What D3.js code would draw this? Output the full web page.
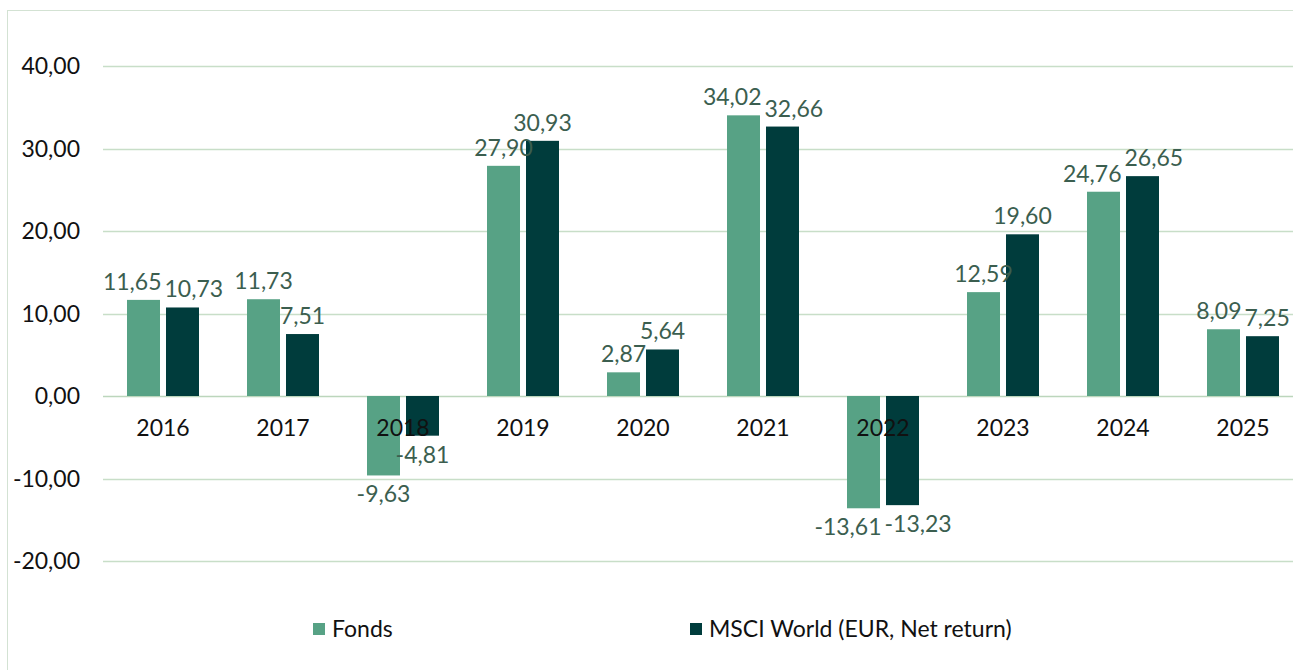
<!DOCTYPE html>
<html>
<head>
<meta charset="utf-8">
<script src="https://cdn.jsdelivr.net/npm/d3@7"></script>
<style>
	body { margin: 0; background: #fff; }
	svg text { font-family: Lato, "Open Sans", sans-serif; }
</style>
</head>
<body>
<div id="chart"></div>
<script>
const years = ["2016", "2017", "2018", "2019", "2020", "2021", "2022", "2023", "2024", "2025"];
const fonds = [11.65, 11.73, -9.63, 27.90, 2.87, 34.02, -13.61, 12.59, 24.76, 8.09];
const msci = [10.73, 7.51, -4.81, 30.93, 5.64, 32.66, -13.23, 19.60, 26.65, 7.25];
const seriesNames = ["Fonds", "MSCI World (EUR, Net return)"];
const yTicks = [-20, -10, 0, 10, 20, 30, 40];

drawchart()

function drawchart() {
	const width = 1293;
	const height = 670;
	const colors = ["#57a285", "#003c3c"];
	const fmt = v => d3.format(".2f")(v).replace(".", ",").replace("−", "-");
	const fs = 23;

	const svg = d3.select("#chart")
		.append("svg")
		.attr("width", width)
		.attr("height", height);

	// chart frame
	svg.append("rect")
		.attr("x", 7.5)
		.attr("y", 10.5)
		.attr("width", width)
		.attr("height", height)
		.attr("fill", "none")
		.attr("stroke", "#d3e2d3")
		.attr("stroke-width", 1);

	const x = d3.scaleBand()
		.domain(years)
		.range([103, 1303])
		.padding(0);

	const y = d3.scaleLinear()
		.domain([-20, 40])
		.range([561, 66]);

	// gridlines
	svg.append("g")
		.selectAll("line")
		.data(yTicks)
		.enter()
		.append("line")
		.attr("x1", 103)
		.attr("x2", width)
		.attr("y1", d => Math.round(y(d)) + 0.5)
		.attr("y2", d => Math.round(y(d)) + 0.5)
		.attr("stroke", d => d === 0 ? "#bcd6bc" : "#c8dec8")
		.attr("stroke-width", 1.3);

	// y labels
	svg.append("g")
		.selectAll("text")
		.data(yTicks)
		.enter()
		.append("text")
		.text(d => fmt(d))
		.attr("x", 80)
		.attr("y", d => y(d) + 8)
		.attr("text-anchor", "end")
		.attr("font-size", fs)
		.attr("fill", "#111");

	const barW = 33;
	const gap = 6;
	const offsets = [-(barW + gap / 2), gap / 2];
	const series = [fonds, msci];

	const groups = svg.append("g")
		.selectAll("g")
		.data(series)
		.enter()
		.append("g")
		.attr("fill", (d, i) => colors[i]);

	groups.each(function(vals, s) {
		d3.select(this).selectAll("rect")
			.data(vals)
			.enter()
			.append("rect")
			.attr("x", (d, i) => x(years[i]) + x.bandwidth() / 2 + offsets[s])
			.attr("width", barW)
			.attr("y", d => y(Math.max(0, d)))
			.attr("height", d => Math.abs(y(d) - y(0)));
	});

	// category labels (drawn over bars)
	svg.append("g")
		.selectAll("text")
		.data(years)
		.enter()
		.append("text")
		.text(d => d)
		.attr("x", d => x(d) + x.bandwidth() / 2)
		.attr("y", 436)
		.attr("text-anchor", "middle")
		.attr("font-size", fs)
		.attr("fill", "#111");

	// value labels
	const labelY = d => d >= 0 ? y(d) - 10 : y(d) + 27;
	const labels = series.map(function(vals, s) {
		return svg.append("g")
			.selectAll("text")
			.data(vals)
			.enter()
			.append("text")
			.text(d => fmt(d))
			.attr("x", (d, i) => x(years[i]) + x.bandwidth() / 2 + offsets[s] + barW / 2)
			.attr("y", labelY)
			.attr("text-anchor", "middle")
			.attr("font-size", fs)
			.attr("fill", "#3b5e4f");
	});

	// push overlapping label pairs apart
	const a = labels[0].nodes();
	const b = labels[1].nodes();
	years.forEach(function(yr, i) {
		const ya = labelY(fonds[i]);
		const yb = labelY(msci[i]);
		if (Math.abs(ya - yb) > 20) return;
		const wa = a[i].getComputedTextLength();
		const wb = b[i].getComputedTextLength();
		const xa = +a[i].getAttribute("x");
		const xb = +b[i].getAttribute("x");
		const overlap = (xa + wa / 2 + 3) - (xb - wb / 2);
		if (overlap > 0) {
			a[i].setAttribute("x", xa - overlap / 2);
			b[i].setAttribute("x", xb + overlap / 2);
		}
	});

	// legend
	const legendX = [313, 690];
	const legend = svg.append("g")
		.selectAll("g")
		.data(seriesNames)
		.enter()
		.append("g")
		.attr("transform", (d, i) => `translate(${legendX[i]},${623})`);
	legend.append("rect")
		.attr("width", 12)
		.attr("height", 12)
		.attr("fill", (d, i) => colors[i]);
	legend.append("text")
		.text(d => d)
		.attr("x", 19)
		.attr("y", 14)
		.attr("font-size", fs)
		.attr("fill", "#111");
}
</script>
</body>
</html>
